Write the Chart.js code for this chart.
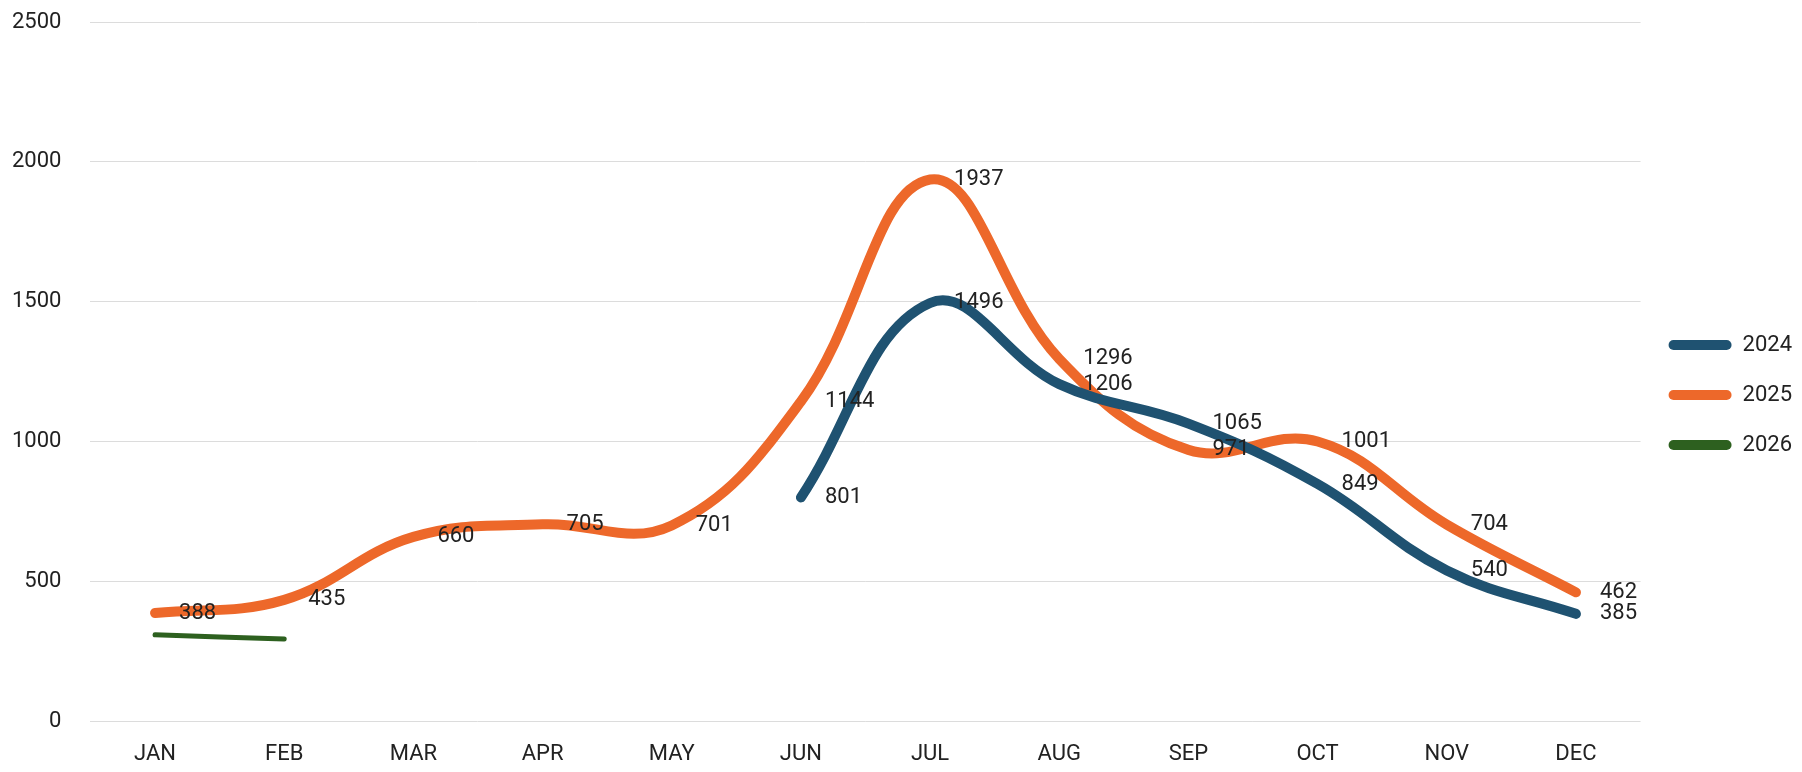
<!DOCTYPE html>
<html lang="en">
<head>
<meta charset="utf-8">
<title>Monthly totals 2024-2026</title>
<script src="https://cdn.jsdelivr.net/npm/chart.js@4.4.1/dist/chart.umd.min.js"></script>
<style>
    html, body { margin: 0; padding: 0; background: #ffffff; }
    #wrap { width: 1802px; height: 772px; position: relative; }
</style>
</head>
<body>
<div id="wrap"><canvas id="monthlyChart"></canvas></div>
<script>
// --- data ---
const months = ['JAN', 'FEB', 'MAR', 'APR', 'MAY', 'JUN', 'JUL', 'AUG', 'SEP', 'OCT', 'NOV', 'DEC'];
const values2024 = [null, null, null, null, null, 801, 1496, 1206, 1065, 849, 540, 385];
const values2025 = [388, 435, 660, 705, 701, 1144, 1937, 1296, 971, 1001, 704, 462];
const values2026 = [310, 295, null, null, null, null, null, null, null, null, null, null];
const yTicks = [0, 500, 1000, 1500, 2000, 2500];

const FONT = 'Roboto, "Liberation Sans", sans-serif';
const TEXT_COLOR = '#222222';

/**
 * 各ポイントの右側に値ラベルを描く簡易プラグイン
 * (chartjs-plugin-datalabels は使えないので自前)
 */
const valueLabelPlugin = {
    id: 'valueLabels',
    afterDatasetsDraw(chart) {
        const ctx = chart.ctx;
        ctx.save();
        ctx.font = '22px ' + FONT;
        ctx.fillStyle = TEXT_COLOR;
        ctx.textAlign = 'left';
        ctx.textBaseline = 'middle';
        chart.data.datasets.forEach((ds, i) => {
            if (!ds.showValues) return;
            const meta = chart.getDatasetMeta(i);
            if (meta.hidden) return;
            meta.data.forEach((pt, j) => {
                const v = ds.data[j];
                if (v === null || v === undefined) return;
                ctx.fillText(String(v), pt.x + 24, pt.y);
            });
        });
        ctx.restore();
    }
};

function renderChart() {
    const canvas = document.getElementById('monthlyChart');
    if (!canvas) {
        console.error('canvas not found');
        return;
    }

    const lineBase = {
        fill: false,
        tension: 0.4,
        pointRadius: 0,
        pointHoverRadius: 0,
        borderCapStyle: 'round',
        borderJoinStyle: 'round',
        spanGaps: false
    };

    const config = {
        type: 'line',
        data: {
            labels: months,
            datasets: [
                Object.assign({}, lineBase, {
                    label: '2024',
                    data: values2024,
                    borderColor: '#1f5271',
                    backgroundColor: '#1f5271',
                    borderWidth: 10,
                    showValues: true
                }),
                Object.assign({}, lineBase, {
                    label: '2025',
                    data: values2025,
                    borderColor: '#ed682a',
                    backgroundColor: '#ed682a',
                    borderWidth: 10,
                    showValues: true
                }),
                Object.assign({}, lineBase, {
                    label: '2026',
                    data: values2026,
                    borderColor: '#2d601f',
                    backgroundColor: '#2d601f',
                    borderWidth: 5,
                    showValues: false
                })
            ]
        },
        options: {
            responsive: true,
            maintainAspectRatio: false,
            animation: false,
            layout: {
                padding: { top: 22, bottom: 4, left: 12, right: 0 }
            },
            scales: {
                x: {
                    offset: true,
                    grid: { display: false, drawTicks: false },
                    border: { display: false },
                    ticks: {
                        color: TEXT_COLOR,
                        font: { family: FONT, size: 22 },
                        padding: 20,
                        maxRotation: 0
                    },
                    // fit() は padding を2倍で取るので片側分を戻す
                    afterFit(scale) {
                        scale.height -= scale.options.ticks.padding;
                        scale.paddingLeft = 0;
                        scale.paddingRight = 0;
                    }
                },
                y: {
                    min: yTicks[0],
                    max: yTicks[yTicks.length - 1],
                    afterBuildTicks(scale) {
                        scale.ticks = yTicks.map(v => ({ value: v }));
                    },
                    // tick padding が上下の余白・幅に余分に足されるので調整
                    afterFit(scale) {
                        scale.width -= scale.options.ticks.padding;
                        scale.paddingTop = 0;
                        scale.paddingBottom = 0;
                    },
                    grid: {
                        color: '#dcdcdc',
                        lineWidth: 1,
                        drawTicks: false
                    },
                    border: { display: false },
                    ticks: {
                        color: TEXT_COLOR,
                        font: { family: FONT, size: 22 },
                        padding: 29,
                        callback: (value) => String(value)
                    }
                }
            },
            plugins: {
                legend: {
                    position: 'right',
                    labels: {
                        color: TEXT_COLOR,
                        font: { family: FONT, size: 22 },
                        boxWidth: 63,
                        boxHeight: 10,
                        padding: 28,
                        useBorderRadius: true,
                        borderRadius: 5,
                        generateLabels(chart) {
                            const items = Chart.defaults.plugins.legend.labels.generateLabels(chart);
                            items.forEach(it => { it.lineWidth = 0; });
                            return items;
                        }
                    }
                },
                tooltip: { enabled: false },
                title: { display: false }
            }
        },
        plugins: [valueLabelPlugin]
    };

    new Chart(canvas.getContext('2d'), config);
}

document.addEventListener('DOMContentLoaded', renderChart);
</script>
</body>
</html>
